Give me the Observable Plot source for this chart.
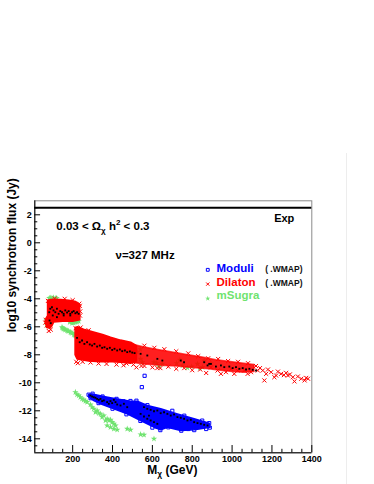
<!DOCTYPE html>
<html><head><meta charset="utf-8">
<script src="https://cdn.jsdelivr.net/npm/d3@7"></script>
<script src="https://cdn.jsdelivr.net/npm/@observablehq/plot@0.6"></script>
<style>
body{margin:0;background:#fff;width:374px;height:484px;overflow:hidden;position:relative;font-family:"Liberation Sans",Arial,sans-serif}
#sep{position:absolute;left:346px;top:153px;width:1px;height:331px;background:#ededed}
</style></head><body><div id="chart"></div><div id="sep"></div>
<script>
// ---- axes ----
const xDomain = [10, 1400];
const yDomain = [-15, 3];
const xMajor = [200, 400, 600, 800, 1000, 1200, 1400];
const yMajor = [-14, -12, -10, -8, -6, -4, -2, 0, 2];
const topLineY = [2.5];

// ---- Dilaton (red x) dense regions (outlines) ----
const dilatonBlockA = [[74,-4.1],[100,-4.03],[140,-4.05],[180,-4.1],[215,-4.2],[235,-4.4],[236,-5.5],[200,-5.6],[150,-5.6],[105,-5.65],[95,-5.95],[86,-6.1],[70,-6.05],[62,-5.6],[66,-5.4],[74,-5.2]];
const dilatonBlockB = [[212,-6.05],[225,-6.0],[260,-6.2],[300,-6.35],[350,-6.55],[390,-6.75],[440,-6.95],[491,-7.1],[520,-7.35],[520,-8.45],[490,-8.6],[457,-8.55],[400,-8.5],[340,-8.5],[280,-8.45],[222,-8.3],[212,-8.0]];
const dilatonBand = [[500,-7.25],[560,-7.45],[620,-7.6],[700,-7.8],[780,-8.0],[850,-8.15],[920,-8.35],[1000,-8.5],[1060,-8.6],[1110,-8.7],[1110,-9.2],[1060,-9.25],[1000,-9.2],[940,-9.1],[880,-9.0],[800,-8.9],[720,-8.8],[640,-8.75],[560,-8.65],[500,-8.55]];
const dilatonPts = [[66,-5.5],[70,-5.9],[80,-6.3],[90,-6.2],[63,-5.7],[236,-4.5],[237,-5.2],[233,-4.35],[238,-4.9],[76,-4.15],[110,-3.98],[160,-4.0],[200,-4.1],
[218,-8.5],[226,-8.6],[250,-8.5],[290,-8.55],[330,-8.62],[370,-8.65],[420,-8.7],[455,-8.75],[470,-8.62],[505,-8.7],[215,-6.1],[240,-6.05],[280,-6.25],
[520,-8.9],[545,-8.8],[560,-8.8],[600,-8.9],[625,-8.95],[640,-8.95],[680,-8.85],[720,-9.0],[760,-8.95],[800,-9.1],[840,-9.05],[870,-9.3],[894,-8.9],[927,-9.12],[944,-9.36],[969,-9.24],[995,-9.0],[1011,-9.36],[1028,-9.12],[1061,-9.12],[1078,-9.36],[1095,-9.24],
[560,-7.35],[610,-7.5],[660,-7.6],[720,-7.75],[780,-7.9],[830,-8.1],[880,-8.25],[930,-8.3],[980,-8.45],[1030,-8.5],[1080,-8.6],
[1120,-8.8],[1129,-9.12],[1140,-8.95],[1154,-9.12],[1162,-9.83],[1171,-9.36],[1180,-9.05],[1196,-9.24],[1212,-9.6],[1221,-9.48],[1230,-9.2],[1246,-9.36],[1260,-9.45],[1271,-9.29],[1280,-9.48],[1290,-9.4],[1305,-9.6],[1313,-9.9],[1330,-9.55],[1347,-9.71],[1364,-9.83],[1372,-9.65],[1381,-9.71]];
const dilatonWmap = [[82.6,-4.96],[87.7,-4.71],[96,-4.6],[104,-4.83],[113,-4.96],[121,-4.71],[129.5,-5.07],[138,-4.88],[146.6,-4.96],[154.7,-5.07],[163,-4.83],[172,-4.98],[180,-4.88],[188,-5.07],[197,-4.96],[205,-4.88],[213.6,-5.03],[222,-4.96],[230,-5.07],[84,-5.55],[90,-5.74],[100,-5.19],[121,-5.31],[155,-5.19],[188,-5.19],
[222,-6.79],[235.4,-7.1],[247.1,-6.98],[258.9,-7.22],[272.3,-7.1],[285.8,-7.26],[297.5,-7.34],[309.3,-7.22],[322.7,-7.41],[336.1,-7.34],[347.9,-7.5],[359.6,-7.46],[373.1,-7.57],[386.5,-7.5],[398.3,-7.65],[410,-7.57],[423.4,-7.69],[436.9,-7.62],[448.6,-7.74],[462,-7.69],[473.8,-7.81],[487.2,-7.76],[499,-7.84],[510.7,-7.88],
[541,-7.93],[574.6,-8.05],[625,-8.29],[650,-8.41],[742.5,-8.41],[759,-8.53],[860,-8.53],[885,-8.65],
[876.9,-8.76],[893.7,-8.65],[918.9,-8.84],[944,-8.76],[960.8,-8.88],[986,-8.84],[1002.8,-8.95],[1019.6,-8.88],[1036.4,-9.0],[1053.2,-8.95],[1070,-9.05],[1086.8,-9.0],[1103.5,-9.07],[1120,-9.12]];

// ---- Moduli (blue squares) ----
const moduliCloud = [[280.7,-10.84],[297.5,-10.79],[356.3,-10.98],[423.4,-11.15],[490.6,-11.31],[524.2,-11.31],[574.5,-11.62],[641.7,-11.86],[725.7,-12.22],[809.6,-12.57],[885.2,-12.88],[890,-13.17],[809.6,-13.36],[742.4,-13.41],[675.3,-13.17],[641.7,-13.36],[608,-13.17],[541,-12.69],[473.8,-12.22],[406.6,-11.86],[339.5,-11.5],[305.9,-11.27],[280.7,-11.03]];
const moduliPts = [[561,-9.5],[547,-10.31],[280,-10.85],[300,-10.78],[290,-11.1],[350,-10.98],[330,-11.45],[420,-11.15],[400,-11.85],[470,-12.25],[490,-11.3],[520,-11.28],[540,-12.72],[575,-11.6],[600,-13.2],[640,-13.38],[680,-13.18],[700,-12.0],[745,-13.42],[780,-13.3],[810,-13.38],[850,-12.7],[870,-13.3],[885,-12.88],[888,-13.2],[620,-13.1],[455,-11.32],[760,-12.35]];
const moduliWmap = [[289.1,-10.91],[297.5,-10.98],[305.9,-11.03],[314.3,-11.07],[322.7,-11.15],[331.1,-11.22],[339.5,-11.15],[347.9,-11.31],[356.3,-11.26],[373.1,-11.38],[381.5,-11.5],[389.9,-11.31],[398.2,-11.45],[415,-11.38],[423.4,-11.55],[440.2,-11.62],[457,-11.5],[473.8,-11.74],[406.6,-11.22],
[541,-12.22],[557.8,-12.41],[574.5,-12.57],[591.3,-12.69],[608.1,-12.81],[624.9,-12.93],[582.9,-12.34],
[557.8,-11.74],[574.5,-11.86],[591.3,-11.93],[608.1,-12.03],[624.9,-11.98],[641.7,-12.17],[658.5,-12.1],[675.3,-12.22],[692.1,-12.34],[708.9,-12.26],[725.7,-12.45],[742.4,-12.5],[759.2,-12.57],[776,-12.69],[792.8,-12.64],[809.6,-12.81],[826.4,-12.88],[843.2,-12.93],[860,-13.0],[876.8,-13.05]];

// ---- mSugra (green stars) ----
const msugraPts = [[67.5,-5.5],[70.9,-5.74],[75.9,-5.62],[72,-5.9],[82.6,-3.95],[90,-3.93],[96,-3.95],[104,-3.92],[112.8,-3.96],[120,-3.95],[185,-5.67],[196.8,-5.74],[205,-5.72],[213.6,-5.67],[222,-5.65],[230.4,-5.6],
[146.4,-6.03],[150,-6.1],[154.8,-6.15],[160,-6.18],[163.2,-6.22],[171.6,-6.26],[176,-6.3],[180,-6.31],[188.4,-6.38],[192,-6.42],[196.8,-6.45],[205.2,-6.55],[210,-6.58],[213.6,-6.62],
[472,-7.28],[489,-7.35],[507.4,-7.69],[524.2,-7.81],[539,-7.6],[541,-8.29],[549.4,-8.53],[608.1,-8.53],[622,-8.6],[633.3,-8.84],[650.1,-8.65],[722,-8.6],[738,-8.36],[750.8,-8.76],[776,-8.93],[797,-8.84],[826.4,-8.65],[838,-8.95],[851.7,-8.88],[860,-8.41],[893.6,-8.6],
[213.6,-10.67],[222,-10.84],[230.3,-10.91],[238.7,-11.03],[247.1,-11.15],[255.5,-11.22],[263.9,-11.31],[272.3,-11.38],[289.1,-11.55],[297.5,-11.74],[305.9,-11.86],[314.3,-12.1],[322.7,-11.98],[331.1,-12.17],[339.5,-12.22],[347.9,-12.45],[356.3,-12.34],[364.7,-12.69],[373.1,-12.57],[381.5,-12.69],[389.9,-12.64],[398.2,-12.81],[406.6,-12.93],[415,-13.05],[373.1,-13.05],[389.9,-13.17],[406.6,-13.29],[423.4,-13.36],[473.8,-13.29],[490.6,-13.36],[541,-13.69],[557.8,-13.72],[608.1,-14.0]];

// ---- legend ----
const legendNames = ["Moduli", "Dilaton", "mSugra"];
const legendTags = ["( .WMAP)", "( .WMAP)", ""];

const RED = "#ff0000", BLUE = "#0000ff", GREEN = "#6fe36f";
const colors = [BLUE, RED, GREEN];
const symbols = ["square", "times", "star"];

const x0 = xDomain[0], y0 = yDomain[0];
const xMinor = d3.range(50, 1400, 50).filter(v => v % 200 !== 0);
const yMinor = d3.range(-14.5, 3, 0.5).filter(v => Math.abs(v % 2) > 1e-9);
const P = d => d[0], Q = d => d[1];
const bold = {fontWeight: "bold"};

const legendMarkY = [-1.93, -2.95, -3.98];
const legendTextY = [-2.05, -3.07, -4.02];
const legend = legendNames.map((n, i) => ({n, tag: legendTags[i], c: colors[i], s: symbols[i], ym: legendMarkY[i], yt: legendTextY[i]}));

const chart = Plot.plot({
  width: 374, height: 484,
  marginLeft: 34.3, marginRight: 62.7, marginTop: 200.3, marginBottom: 31.7,
  style: {fontFamily: "Liberation Sans, Arial, sans-serif", background: "white", overflow: "visible"},
  x: {domain: xDomain},
  y: {domain: yDomain},
  marks: [
    // green first (behind)
    Plot.dot(msugraPts, {x: P, y: Q, symbol: "star", r: 2, fill: GREEN}),
    // red regions
    Plot.line(dilatonBand, {x: P, y: Q, curve: "linear-closed", fill: RED, fillOpacity: 0.88, stroke: RED, strokeOpacity: 0.7, strokeWidth: 1.5}),
    Plot.line(dilatonBlockA, {x: P, y: Q, curve: "linear-closed", fill: RED, stroke: RED, strokeWidth: 1.5}),
    Plot.line(dilatonBlockB, {x: P, y: Q, curve: "linear-closed", fill: RED, stroke: RED, strokeWidth: 1.5}),
    Plot.dot(dilatonPts, {x: P, y: Q, symbol: "times", r: 2, stroke: RED, strokeWidth: 1}),
    // blue
    Plot.line(moduliCloud, {x: P, y: Q, curve: "linear-closed", fill: BLUE, stroke: BLUE, strokeWidth: 1.5}),
    Plot.dot(moduliPts, {x: P, y: Q, symbol: "square", r: 1.8, stroke: BLUE, strokeWidth: 1, fill: "none"}),
    // black WMAP points
    Plot.dot(dilatonWmap, {x: P, y: Q, symbol: "square", r: 1.05, fill: "black"}),
    Plot.dot(moduliWmap, {x: P, y: Q, symbol: "square", r: 1.05, fill: "black"}),
    // frame
    Plot.frame({stroke: "#8a8a8a"}),
    Plot.ruleX([x0], {stroke: "black"}),
    Plot.ruleY([y0], {stroke: "black"}),
    Plot.ruleY(topLineY, {stroke: "black", strokeWidth: 2}),
    // ticks (inside)
    Plot.ruleY(yMajor, {y: d => d, x1: () => x0, x2: () => x0 + 29, stroke: "black"}),
    Plot.ruleY(yMinor, {y: d => d, x1: () => x0, x2: () => x0 + 15, stroke: "black"}),
    Plot.ruleX(xMajor, {x: d => d, y1: () => y0, y2: () => y0 + 0.52, stroke: "black"}),
    Plot.ruleX(xMinor, {x: d => d, y1: () => y0, y2: () => y0 + 0.25, stroke: "black"}),
    Plot.axisX(xMajor, {tickSize: 0, tickPadding: 3, fontSize: 9, ...bold, tickFormat: d => String(d), label: null}),
    Plot.axisY(yMajor, {tickSize: 0, tickPadding: 3, fontSize: 9, ...bold, tickFormat: d => String(d), label: null}),
    // axis titles
    Plot.text([{t: "M_{χ} (GeV)", x: 700}], {x: "x", frameAnchor: "bottom", text: "t", dy: 21, lineAnchor: "bottom", fontSize: 12, ...bold}),
    Plot.text([{t: "log10 synchrotron flux (Jy)", y: -6.39}], {y: "y", frameAnchor: "left", text: "t", dx: -22.8, rotate: -90, lineAnchor: "middle", fontSize: 12, ...bold}),
    // annotations
    Plot.text([{t: "0.03 < Ω_{χ} h^{2} < 0.3", x: 118, y: 0.95}], {x: "x", y: "y", text: "t", textAnchor: "start", lineAnchor: "bottom", fontSize: 11.5, ...bold}),
    Plot.text([{t: "Exp", x: 1211, y: 1.52}], {x: "x", y: "y", text: "t", textAnchor: "start", lineAnchor: "bottom", fontSize: 11, ...bold}),
    Plot.text([{t: "ν=327 MHz", x: 415, y: -1.16}], {x: "x", y: "y", text: "t", textAnchor: "start", lineAnchor: "bottom", fontSize: 11.5, ...bold}),
    // legend
    Plot.dot(legend, {x: () => 878, y: "ym", symbol: "s", stroke: d => d.s === "star" ? "none" : d.c, fill: d => d.s === "star" ? d.c : "none", r: 1.6, strokeWidth: 1}),
    Plot.text(legend, {x: () => 922, y: "yt", text: "n", fill: "c", textAnchor: "start", lineAnchor: "bottom", fontSize: 11.5, ...bold}),
    Plot.text(legend, {x: () => 1166, y: "yt", text: "tag", textAnchor: "start", lineAnchor: "bottom", fontSize: 8.5, ...bold, fill: "#111"})
  ]
});
document.getElementById("chart").appendChild(chart);

// render _{..} and ^{..} as sub/superscripts
chart.querySelectorAll("text").forEach(t => {
  const s = t.textContent;
  if (!/[_^]\{/.test(s)) return;
  const fs = parseFloat(getComputedStyle(t).fontSize) || 11;
  const parts = s.split(/([_^]\{[^}]*\})/).filter(p => p.length);
  t.textContent = "";
  let shift = 0;
  parts.forEach(p => {
    const ts = document.createElementNS("http://www.w3.org/2000/svg", "tspan");
    let target = 0;
    if (p.startsWith("_{")) { target = 0.3 * fs; ts.setAttribute("font-size", 0.7 * fs); p = p.slice(2, -1); }
    else if (p.startsWith("^{")) { target = -0.42 * fs; ts.setAttribute("font-size", 0.7 * fs); p = p.slice(2, -1); }
    ts.setAttribute("dy", target - shift);
    shift = target;
    ts.textContent = p;
    t.appendChild(ts);
  });
});
</script></body></html>
